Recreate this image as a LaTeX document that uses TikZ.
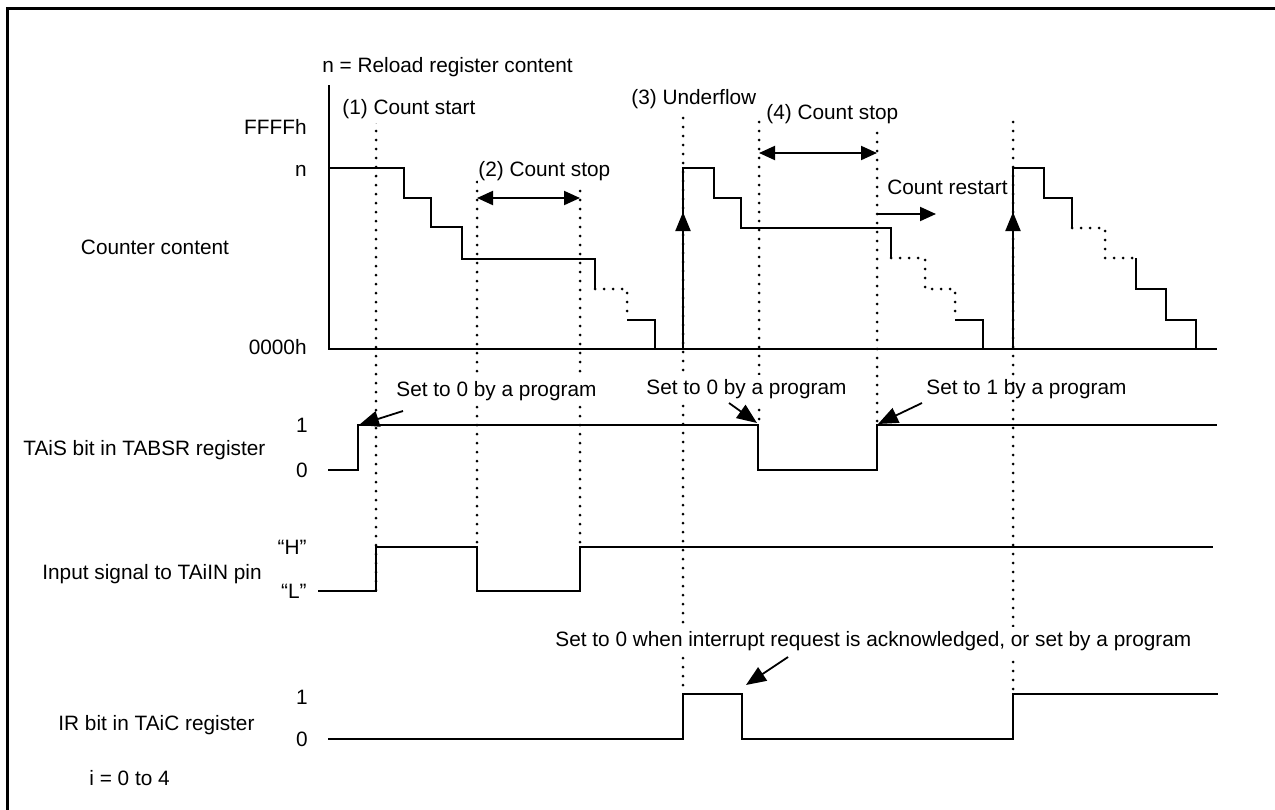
\documentclass[tikz,border=0pt]{standalone}
\usepackage{fontspec}
\setmainfont{Liberation Sans}
\usetikzlibrary{arrows.meta}
\begin{document}
\begin{tikzpicture}[x=0.5pt,y=-0.5pt,
  lbl/.style={inner xsep=0pt, inner ysep=2pt, font=\fontsize{10.4}{12}\selectfont},
  lw/.style={lbl, anchor=base west},
  le/.style={lbl, anchor=base east},
  lc/.style={lbl, anchor=base},
  wlbl/.style={lw, fill=white},
  sig/.style={line width=1pt, line join=miter},
  dots/.style={line width=1.5pt, dash pattern=on 0pt off 4.5pt, line cap=round},
  dotsig/.style={line width=1.5pt, dash pattern=on 0pt off 4.5pt, line cap=round},
  harrow/.style={line width=1pt, {Triangle[length=8pt,width=7pt]}-{Triangle[length=8pt,width=7pt]}},
  sarrow/.style={line width=1pt, -{Triangle[length=8pt,width=7pt]}},
  uarrow/.style={line width=1pt, -{Triangle[length=9.5pt,width=7.5pt]}},
  note/.style={line width=0.9pt, -{Triangle[length=10pt,width=8pt]}}
]
\useasboundingbox (0,0) rectangle (1275,809);
% frame
\draw[line width=1.5pt] (7.5,830) -- (7.5,8.5) -- (1290,8.5);

% dotted timing lines
\draw[dots] (376,113) -- (376,591);
\draw[dots] (477,182) -- (477,547);
\draw[dots] (580,182) -- (580,547);
\draw[dots] (683,118) -- (683,694);
\draw[dots] (759,122) -- (759,425);
\draw[dots] (877,133) -- (877,425);
\draw[dots] (1013,122) -- (1013,694);

% axes of counter
\draw[sig] (329,85) -- (329,349) -- (1217,349);

% counter staircase 1
\draw[sig] (329,168) -- (404,168) -- (404,198) -- (431,198) -- (431,227) -- (462,227) -- (462,259) -- (595,259) -- (595,289);
\draw[dotsig] (595,289) -- (627,289) -- (627,320);
\draw[sig] (627,320) -- (655,320) -- (655,349);
% counter staircase 2
\draw[sig] (683,349) -- (683,168) -- (714,168) -- (714,198) -- (741,198) -- (741,228) -- (891,228) -- (891,258);
\draw[dotsig] (891,258) -- (925,258) -- (925,289) -- (955,289) -- (955,320);
\draw[sig] (955,320) -- (983,320) -- (983,349);
% counter staircase 3
\draw[sig] (1013,349) -- (1013,168) -- (1044,168) -- (1044,198) -- (1072,198) -- (1072,228);
\draw[dotsig] (1072,228) -- (1105,228) -- (1105,258) -- (1136,258);
\draw[sig] (1136,258) -- (1136,289) -- (1166,289) -- (1166,320) -- (1196,320) -- (1196,349);

% underflow arrows
\coordinate (u1a) at (683,349); \coordinate (u1b) at (683,212);
\coordinate (u2a) at (1013,349); \coordinate (u2b) at (1013,212);
\draw[uarrow] (u1a) -- (u1b);
\draw[uarrow] (u2a) -- (u2b);

% count stop arrows
\coordinate (cs2a) at (477,198); \coordinate (cs2b) at (580,198);
\draw[harrow] (cs2a) -- (cs2b);
\coordinate (cs4a) at (759,153); \coordinate (cs4b) at (877,153);
\draw[harrow] (cs4a) -- (cs4b);
\coordinate (cra) at (877,214); \coordinate (crb) at (936,214);
\draw[sarrow] (cra) -- (crb);

% TAiS signal
\draw[sig] (328,470) -- (358,470) -- (358,425) -- (758,425) -- (758,470) -- (877,470) -- (877,425) -- (1217,425);
% input signal
\draw[sig] (318,591) -- (376,591) -- (376,547) -- (477,547) -- (477,591) -- (580,591) -- (580,547) -- (1213,547);
% IR signal
\draw[sig] (328,739) -- (683,739) -- (683,694) -- (742,694) -- (742,739) -- (1013,739) -- (1013,694) -- (1218,694);

% top labels
\node[lw] (nreload) at (322,72.4) {n = Reload register content};
\node[wlbl] (cstart) at (342,114.4) {(1) Count start};
\node[wlbl] (cstop2) at (478,176.4) {(2) Count stop};
\node[wlbl] (uflow) at (631,104.4) {(3) Underflow};
\node[wlbl] (cstop4) at (766,119.4) {(4) Count stop};
\node[lw] (crestart) at (887,194.4) {Count restart};

% axis labels
\node[le] (ffff) at (307,134.4) {FFFFh};
\node[le] (nlev) at (307,176.4) {n};
\node[le] (zero) at (307,354.4) {0000h};
\node[lc] (cc) at (155,254.4) {Counter content};

% TAiS labels
\node[lw] (tais) at (23,455.4) {TAiS bit in TABSR register};
\node[lc] (t1) at (302,432.4) {1};
\node[lc] (t0) at (302,477.4) {0};
\node[wlbl] (s0a) at (396,396.4) {Set to 0 by a program};
\node[wlbl] (s0b) at (646,394.4) {Set to 0 by a program};
\node[lw] (s1) at (926,394.4) {Set to 1 by a program};
\coordinate (a1s) at (403,411); \coordinate (a1e) at (359,425);
\coordinate (a2s) at (729,403); \coordinate (a2e) at (757,423);
\coordinate (a3s) at (922,403); \coordinate (a3e) at (878,424);
\draw[note] (a1s) -- (a1e);
\draw[note] (a2s) -- (a2e);
\draw[note] (a3s) -- (a3e);

% input labels
\node[lw] (inp) at (42,579.4) {Input signal to TAiIN pin};
\node[le] (hh) at (307,554.4) {“H”};
\node[le] (ll) at (307,598.4) {“L”};

% IR labels
\node[lw] (irb) at (58,730.4) {IR bit in TAiC register};
\node[lc] (i1) at (302,704.4) {1};
\node[lc] (i0) at (302,746.4) {0};
\node[wlbl] (ack) at (555,646.4) {Set to 0 when interrupt request is acknowledged, or set by a program};
\coordinate (a4s) at (788,657); \coordinate (a4e) at (746,685);
\draw[note] (a4s) -- (a4e);
\node[lw] (irange) at (89,785.4) {i = 0 to 4};
\end{tikzpicture}
\end{document}
